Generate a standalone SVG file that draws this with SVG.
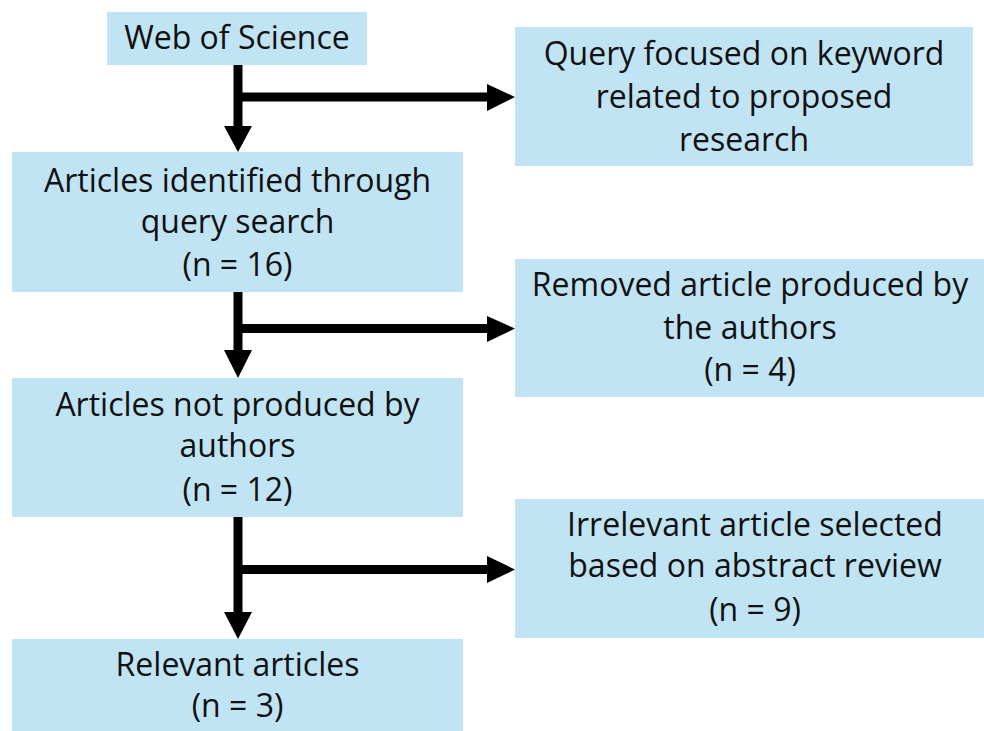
<svg xmlns="http://www.w3.org/2000/svg" width="984" height="731" viewBox="0 0 984 731">
<style>
.box{fill:#C0E4F4}
.t{font-family:"Open Sans","Liberation Sans",sans-serif;font-size:32px;fill:#111;text-anchor:middle}
.ln{stroke:#000;stroke-width:9;fill:none}
.ah{fill:#000}
</style>
<rect width="984" height="731" fill="#fff"/>
<g id="n1"><rect class="box" x="107" y="12" width="260" height="53"/><text class="t" x="237" y="49">Web of Science</text></g>
<g id="n2"><rect class="box" x="515" y="27" width="458" height="139"/><text class="t" x="744" y="65">Query focused on keyword</text><text class="t" x="744" y="108">related to proposed</text><text class="t" x="744" y="151">research</text></g>
<g id="n3"><rect class="box" x="12" y="152" width="451" height="140"/><text class="t" x="237.5" y="192">Articles identified through</text><text class="t" x="237.5" y="233">query search</text><text class="t" x="237.5" y="276">(n = 16)</text></g>
<g id="n4"><rect class="box" x="515" y="259" width="471" height="138"/><text class="t" x="750" y="296">Removed article produced by</text><text class="t" x="750" y="339">the authors</text><text class="t" x="750" y="381">(n = 4)</text></g>
<g id="n5"><rect class="box" x="12" y="378" width="451" height="139"/><text class="t" x="237.5" y="416">Articles not produced by</text><text class="t" x="237.5" y="457">authors</text><text class="t" x="237.5" y="501">(n = 12)</text></g>
<g id="n6"><rect class="box" x="515" y="499" width="480" height="139"/><text class="t" x="755" y="536">Irrelevant article selected</text><text class="t" x="755" y="577">based on abstract review</text><text class="t" x="755" y="621">(n = 9)</text></g>
<g id="n7"><rect class="box" x="12" y="639" width="451" height="92"/><text class="t" x="237.5" y="676">Relevant articles</text><text class="t" x="237.5" y="717">(n = 3)</text></g>
<g id="connectors">
<path class="ln" d="M238 65V127M238 97H488"/>
<polygon class="ah" points="224,126 252,126 238,152"/>
<polygon class="ah" points="487,84 515,97 487,111"/>
<path class="ln" d="M238 292V351M238 328.5H488"/>
<polygon class="ah" points="224,350 252,350 238,378"/>
<polygon class="ah" points="487,316 515,328.5 487,342"/>
<path class="ln" d="M238 517V613M238 569.5H488"/>
<polygon class="ah" points="224,612 252,612 238,639"/>
<polygon class="ah" points="487,556 515,569.5 487,583"/>
</g>
</svg>
